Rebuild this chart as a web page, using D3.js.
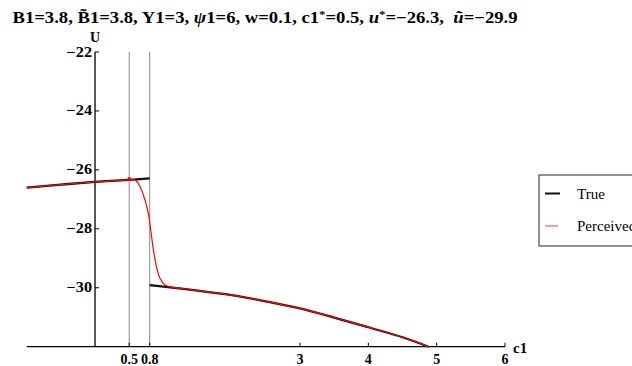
<!DOCTYPE html>
<html>
<head>
<meta charset="utf-8">
<script src="https://cdn.jsdelivr.net/npm/d3@7"></script>
<style>
    body { margin: 0; background: #fff; }
    svg { font-family: "Liberation Serif", "Times New Roman", serif; }
    text { white-space: pre; }
</style>
</head>
<body>
<div id="chart"></div>
<script>
// values
var trueLeftC = [-1, -0.5, 0, 0.5, 0.8];
var trueLeftU = [-26.6, -26.5, -26.41, -26.34, -26.29];
var trueRightC = [0.8, 1, 1.5, 2, 2.5, 3, 3.5, 4, 4.5, 4.88];
var trueRightU = [-29.91, -29.96, -30.1, -30.25, -30.46, -30.7, -31.01, -31.34, -31.68, -32];
var percC = [-1, -0.5, 0, 0.5, 0.585, 0.66, 0.73, 0.78, 0.815, 0.855, 0.9, 0.95, 1.02, 1.1, 1.3, 1.6, 2, 2.5, 3, 3.5, 4, 4.5, 4.88];
var percU = [-26.6, -26.5, -26.41, -26.34, -26.34, -26.57, -27.02, -27.47, -28.04, -28.72, -29.29, -29.68, -29.9, -29.97, -30.04, -30.13, -30.25, -30.46, -30.7, -31.01, -31.34, -31.68, -32];
var starC = 0.5, starU = -26.3;
var markerC = [0.5, 0.8];
var xTicks = [0.5, 0.8, 3, 4, 5, 6];
var yTicks = [-30, -28, -26, -24, -22];
var legendNames = ["True", "Perceived"];

var width = 632, height = 366;

var svg = d3.select("#chart").append("svg")
    .attr("width", width)
    .attr("height", height);

var x = d3.scaleLinear().domain([-1, 6]).range([26.7, 505]);
var y = d3.scaleLinear().domain([-32, -22]).range([346.7, 52]);

function pts(cs, us) {
    return cs.map(function(c, i) { return [c, us[i]]; });
}

var line = d3.line()
    .x(function(d) { return x(d[0]); })
    .y(function(d) { return y(d[1]); })
    .curve(d3.curveCatmullRom.alpha(0.5));

// title
var title = svg.append("text")
    .attr("x", 12.5)
    .attr("y", 23)
    .attr("font-size", 16)
    .attr("font-weight", "bold");
title.append("tspan").text("B1=3.8, B\u03031=3.8, Y1=3, ");
title.append("tspan").attr("font-style", "italic").text("\u03c8");
title.append("tspan").text("1=6, w=0.1, c1");
title.append("tspan").attr("font-size", 11).attr("dy", -5).text("*");
title.append("tspan").attr("dy", 5).text("=0.5, ");
title.append("tspan").attr("font-style", "italic").text("u");
title.append("tspan").attr("font-size", 11).attr("dy", -5).text("*");
title.append("tspan").attr("dy", 5).text("=\u221226.3,  ");
title.append("tspan").attr("font-style", "italic").text("\u0169");
title.append("tspan").text("=\u221229.9");
title.attr("textLength", 505).attr("lengthAdjust", "spacingAndGlyphs");

// vertical marker lines
svg.selectAll("line.marker")
    .data(markerC)
    .enter().append("line")
    .attr("class", "marker")
    .attr("x1", function(d) { return x(d); })
    .attr("x2", function(d) { return x(d); })
    .attr("y1", y(-22))
    .attr("y2", y(-32))
    .attr("stroke", "#8a8a8a")
    .attr("stroke-width", 1);

// axes
svg.append("line")
    .attr("x1", x(0)).attr("x2", x(0))
    .attr("y1", y(-22)).attr("y2", y(-32))
    .attr("stroke", "#000").attr("stroke-width", 1.3);
svg.append("line")
    .attr("x1", x(-1)).attr("x2", x(6))
    .attr("y1", y(-32)).attr("y2", y(-32))
    .attr("stroke", "#000").attr("stroke-width", 1.3);

svg.selectAll("line.ytick")
    .data(yTicks)
    .enter().append("line")
    .attr("class", "ytick")
    .attr("x1", x(0)).attr("x2", x(0) + 4)
    .attr("y1", function(d) { return y(d); })
    .attr("y2", function(d) { return y(d); })
    .attr("stroke", "#000");

svg.selectAll("text.ylab")
    .data(yTicks)
    .enter().append("text")
    .attr("class", "ylab")
    .attr("x", x(0) - 3)
    .attr("y", function(d) { return y(d) + 4.5; })
    .attr("text-anchor", "end")
    .attr("font-size", 14)
    .attr("font-weight", "bold")
    .attr("textLength", 25.5)
    .attr("lengthAdjust", "spacingAndGlyphs")
    .text(function(d) { return d3.format("d")(d).replace("-", "\u2212"); });

svg.selectAll("line.xtick")
    .data(xTicks)
    .enter().append("line")
    .attr("class", "xtick")
    .attr("x1", function(d) { return x(d); })
    .attr("x2", function(d) { return x(d); })
    .attr("y1", y(-32)).attr("y2", y(-32) - 4)
    .attr("stroke", "#000");

svg.selectAll("text.xlab")
    .data(xTicks)
    .enter().append("text")
    .attr("class", "xlab")
    .attr("x", function(d) { return x(d); })
    .attr("y", 364)
    .attr("text-anchor", "middle")
    .attr("font-size", 14)
    .attr("font-weight", "bold")
    .text(function(d) { return d; });

svg.append("text")
    .attr("x", x(0)).attr("y", 42)
    .attr("text-anchor", "middle")
    .attr("font-size", 14).attr("font-weight", "bold")
    .text("U");
svg.append("text")
    .attr("x", 513).attr("y", 353)
    .attr("font-size", 15).attr("font-weight", "bold")
    .text("c1");

// curves
svg.append("path")
    .datum(pts(trueLeftC, trueLeftU))
    .attr("d", line)
    .attr("fill", "none").attr("stroke", "#111").attr("stroke-width", 2.3);
svg.append("path")
    .datum(pts(trueRightC, trueRightU))
    .attr("d", line)
    .attr("fill", "none").attr("stroke", "#111").attr("stroke-width", 2.3);
svg.append("path")
    .datum(pts(percC, percU))
    .attr("d", line)
    .attr("fill", "none").attr("stroke", "#f00").attr("stroke-width", 1.2);
svg.append("circle")
    .attr("cx", x(starC)).attr("cy", y(starU))
    .attr("r", 1.8).attr("fill", "#f00");

// legend
var legend = svg.append("g");
legend.append("rect")
    .attr("x", 539).attr("y", 175)
    .attr("width", 130).attr("height", 71)
    .attr("fill", "#fff")
    .attr("stroke", "#555").attr("stroke-width", 1.3);
var legendColors = ["#111", "#ff7a7a"];
var legendY = [193.5, 226];
legendNames.forEach(function(name, i) {
    legend.append("line")
        .attr("x1", 545).attr("x2", i == 0 ? 560 : 558)
        .attr("y1", legendY[i]).attr("y2", legendY[i])
        .attr("stroke", legendColors[i])
        .attr("stroke-width", i == 0 ? 2 : 1.5);
    legend.append("text")
        .attr("x", 577).attr("y", legendY[i] + 5)
        .attr("font-size", 15)
        .text(name);
});
</script>
</body>
</html>
